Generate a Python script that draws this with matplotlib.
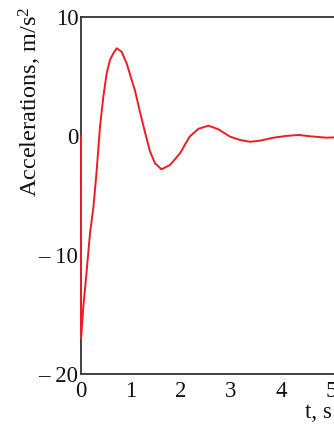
import matplotlib
matplotlib.use("Agg")
import matplotlib.pyplot as plt

plt.rcParams['font.family'] = ['Liberation Serif', 'DejaVu Serif']
plt.rcParams['mathtext.fontset'] = 'custom'
plt.rcParams['mathtext.rm'] = 'Liberation Serif'
plt.rcParams['mathtext.it'] = 'Liberation Serif:italic'

t = [0, 0, 0.013, 0.047, 0.11, 0.15, 0.18, 0.25, 0.31, 0.38, 0.447, 0.513,
     0.58, 0.647, 0.714, 0.813, 0.913, 1.013, 1.08, 1.18, 1.28, 1.38, 1.48,
     1.61, 1.78, 1.98, 2.17, 2.35, 2.55, 2.75, 2.98, 3.18, 3.38, 3.58, 3.85,
     4.11, 4.35, 4.58, 4.91, 5.2, 6.0]
acc = [0, -17, -16.3, -14.3, -11.5, -9.6, -8.2, -5.9, -3.1, 0.77, 3.29, 5.25,
       6.37, 6.93, 7.35, 7.06, 6.09, 4.7, 3.8, 2.0, 0.3, -1.3, -2.3,
       -2.8, -2.44, -1.46, -0.07, 0.6, 0.86, 0.55, -0.06, -0.34, -0.49, -0.4, -0.15,
       0.0, 0.08, -0.03, -0.15, -0.1, -0.05]

xticks = [0, 1, 2, 3, 4, 5]
yticks = [10, 0, -10, -20]
ytick_labels = ["10", "0", "\u2013 10", "\u2013 20"]

W, H = 334, 429
fig = plt.figure(figsize=(W / 100, H / 100), dpi=100)
left, right_px = 81, 581
top, bottom = 16.7, 374.3
ax = fig.add_axes([left / W, 1 - bottom / H, (right_px - left) / W, (bottom - top) / H])

ax.plot(t, acc, color='#ee1c25', lw=1.4, clip_on=False, zorder=5,
        solid_joinstyle='round')
ax.set_xlim(0, 10)
ax.set_ylim(-20, 10)
ax.set_xticks(xticks)
ax.set_xticklabels([str(v) for v in xticks])
ax.set_yticks(yticks)
ax.set_yticklabels(ytick_labels)
ax.tick_params(length=0, labelsize=16.5, colors='#111111')
ax.tick_params(axis='y', pad=2)
ax.tick_params(axis='x', pad=5)
for s in ['left', 'top', 'bottom']:
    ax.spines[s].set_color('#333333')
    ax.spines[s].set_linewidth(1.3)
ax.spines['right'].set_visible(False)

fig.text(30 / W, 1 - 101.5 / H, r"Accelerations, m/s$^2$", rotation=90,
         ha='center', va='center', fontsize=17.5, color='#111111')
fig.text(305 / W, 1 - 413 / H, "t, s", ha='left', va='center',
         fontsize=16.5, color='#111111')

fig.savefig("out.png", dpi=100)
